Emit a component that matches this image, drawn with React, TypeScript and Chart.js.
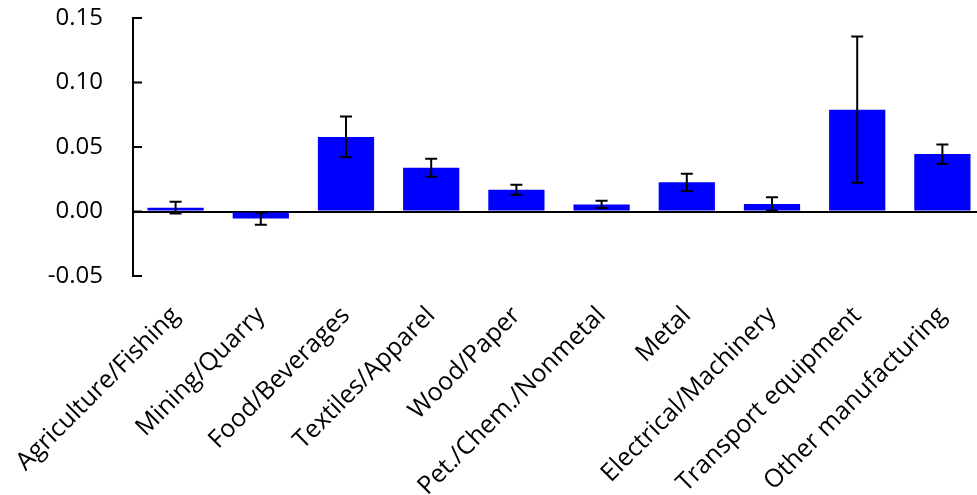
import React, { useEffect, useRef } from "react";
import { Chart, registerables } from "chart.js";

Chart.register(...registerables);

const categories = [
  "Agriculture/Fishing",
  "Mining/Quarry",
  "Food/Beverages",
  "Textiles/Apparel",
  "Wood/Paper",
  "Pet./Chem./Nonmetal",
  "Metal",
  "Electrical/Machinery",
  "Transport equipment",
  "Other manufacturing",
];
const values = [0.003, -0.0055, 0.0578, 0.0339, 0.0168, 0.0055, 0.0226, 0.0058, 0.0789, 0.0445];
const errors = [0.0045, 0.0047, 0.0158, 0.007, 0.0039, 0.0028, 0.0067, 0.0052, 0.0567, 0.0074];
const yTicks = [-0.05, 0, 0.05, 0.1, 0.15];

const FONT = "'Open Sans', 'Noto Sans', sans-serif";

const errorBarPlugin = {
  id: "errorBars",
  afterDatasetsDraw(chart: any) {
    const meta = chart.getDatasetMeta(0);
    const ys = chart.scales.y;
    const ctx = chart.ctx;
    ctx.save();
    ctx.strokeStyle = "#000";
    ctx.lineWidth = 2;
    meta.data.forEach((el: any, i: number) => {
      const x = el.x;
      const top = ys.getPixelForValue(values[i] + errors[i]);
      const bot = ys.getPixelForValue(values[i] - errors[i]);
      ctx.beginPath();
      ctx.moveTo(x, top);
      ctx.lineTo(x, bot);
      ctx.moveTo(x - 6, top);
      ctx.lineTo(x + 6, top);
      ctx.moveTo(x - 6, bot);
      ctx.lineTo(x + 6, bot);
      ctx.stroke();
    });
    ctx.restore();
  },
};

const innerTicksPlugin = {
  id: "innerTicks",
  afterDraw(chart: any) {
    const ys = chart.scales.y;
    const ctx = chart.ctx;
    const left = chart.chartArea.left;
    ctx.save();
    ctx.strokeStyle = "#000";
    ctx.lineWidth = 2;
    yTicks.forEach((v) => {
      const y = ys.getPixelForValue(v);
      ctx.beginPath();
      ctx.moveTo(left, y);
      ctx.lineTo(left + 9, y);
      ctx.stroke();
    });
    ctx.restore();
  },
};

export default function App() {
  const ref = useRef<HTMLCanvasElement>(null);
  useEffect(() => {
    document.body.style.margin = "0";
    document.body.style.overflow = "hidden";
    const chart = new Chart(ref.current!, {
      type: "bar",
      data: {
        labels: categories,
        datasets: [
          {
            data: values,
            backgroundColor: "#0000FF",
            borderWidth: 0,
            barPercentage: 0.66,
            categoryPercentage: 1,
          },
        ],
      },
      options: {
        responsive: false,
        animation: false,
        devicePixelRatio: 1,
        layout: { padding: { top: 18, right: 5, left: 0, bottom: 0 } },
        plugins: { legend: { display: false }, tooltip: { enabled: false } },
        scales: {
          x: {
            grid: { display: false },
            border: { display: false },
            ticks: {
              minRotation: 45,
              maxRotation: 45,
              color: "#000",
              padding: 17,
              font: { family: FONT, size: 25 },
            },
            afterFit: (scale: any) => {
              scale.height = 219;
              scale.paddingLeft = 0;
              scale.paddingRight = 0;
            },
          },
          y: {
            min: -0.05,
            max: 0.15,
            afterBuildTicks: (scale: any) => {
              scale.ticks = yTicks.map((v) => ({ value: v }));
            },
            grid: {
              drawTicks: true,
              tickLength: 27,
              tickColor: "rgba(0,0,0,0)",
              color: (c: any) => (c.tick && c.tick.value === 0 ? "#000" : "rgba(0,0,0,0)"),
              lineWidth: 2,
            },
            border: { display: true, color: "#000", width: 2 },
            ticks: {
              padding: 3,
              color: "#000",
              font: { family: FONT, size: 24 },
              callback: (v: any) => Number(v).toFixed(2),
            },
            afterFit: (scale: any) => {
              scale.width = 133;
            },
          },
        },
      },
      plugins: [errorBarPlugin, innerTicksPlugin],
    });
    return () => chart.destroy();
  }, []);
  return (
    <canvas
      ref={ref}
      width={990}
      height={495}
      style={{ position: "fixed", left: 0, top: 0, width: 990, height: 495 }}
    />
  );
}
